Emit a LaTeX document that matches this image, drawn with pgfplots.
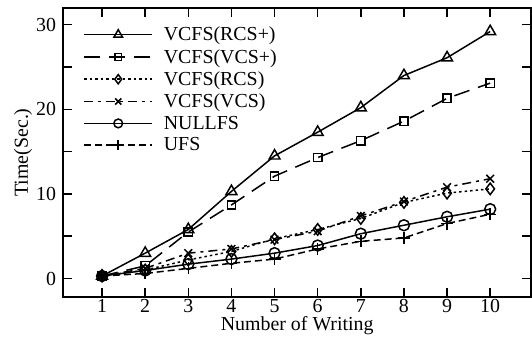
\documentclass[border=0pt]{standalone}
\usepackage{pgfplots}
\pgfplotsset{compat=1.18}
\usepackage{fontspec}
\setmainfont{Liberation Serif}
\newcommand{\lf}{\fontsize{20}{24}\selectfont}
\begin{document}
\begin{tikzpicture}
\begin{axis}[
  scale only axis,
  width=469bp, height=290bp,
  xmin=0.1, xmax=10.95,
  ymin=-2.2, ymax=32.0,
  xtick={1,...,10},
  ytick={0,5,...,30},
  yticklabels={0,,10,,20,,30},
  tick align=inside,
  major tick length=9bp,
  tick style={line width=1.5pt, black},
  axis line style={line width=1.7pt},
  /pgf/number format/assume math mode=true,
  tick label style={font=\lf, inner sep=2bp},
  yticklabel style={xshift=-5bp},
  label style={font=\lf, inner sep=2bp},
  xlabel={Number of Writing},
  ylabel={Time(Sec.)},
  legend cell align=left,
  legend style={font=\lf, draw=none, fill=none, at={(axis description cs:0.043,0.941)}, anchor=north west, row sep=3bp, column sep=9bp, inner sep=0pt},
  legend image code/.code={\draw[mark repeat=2,mark phase=2,#1, every mark/.append style={scale=0.8}] plot coordinates {(0bp,0bp) (34bp,0bp) (68bp,0bp)};},
  every axis plot/.append style={line width=1.5pt, black},
  mark options={solid, line width=1.5pt, fill=white},
]
\addplot[mark=triangle, mark size=6.3pt] coordinates {(1,0.3) (2,3.0) (3,5.8) (4,10.3) (5,14.5) (6,17.3) (7,20.2) (8,24.0) (9,26.1) (10,29.2)};
\addlegendentry{VCFS(RCS+)}
\addplot[mark=square, mark size=4.2pt, dash pattern=on 16bp off 9bp] coordinates {(1,0.3) (2,1.5) (3,5.5) (4,8.7) (5,12.1) (6,14.3) (7,16.3) (8,18.6) (9,21.3) (10,23.1)};
\addlegendentry{VCFS(VCS+)}
\addplot[mark=diamond, mark size=5.8pt, dash pattern=on 2.5bp off 3bp] coordinates {(1,0.3) (2,1.0) (3,2.2) (4,3.2) (5,4.7) (6,5.8) (7,7.1) (8,9.0) (9,10.1) (10,10.6)};
\addlegendentry{VCFS(RCS)}
\addplot[mark=x, mark size=5.5pt, dash pattern=on 9bp off 5bp on 3bp off 5bp] coordinates {(1,0.3) (2,1.2) (3,3.0) (4,3.5) (5,4.6) (6,5.6) (7,7.4) (8,9.1) (9,10.8) (10,11.8)};
\addlegendentry{VCFS(VCS)}
\addplot[mark=o, mark size=5.5pt] coordinates {(1,0.3) (2,0.95) (3,1.7) (4,2.3) (5,3.0) (6,3.9) (7,5.3) (8,6.3) (9,7.3) (10,8.2)};
\addlegendentry{NULLFS}
\addplot[mark=+, mark size=6pt, dash pattern=on 7bp off 4bp] coordinates {(1,0.3) (2,0.6) (3,1.2) (4,1.8) (5,2.3) (6,3.5) (7,4.4) (8,4.8) (9,6.5) (10,7.6)};
\addlegendentry{UFS}
\end{axis}
\path (current bounding box.north west) ++(-12bp,7bp);
\path (current bounding box.south west) ++(0bp,-4bp);
\end{tikzpicture}
\end{document}
